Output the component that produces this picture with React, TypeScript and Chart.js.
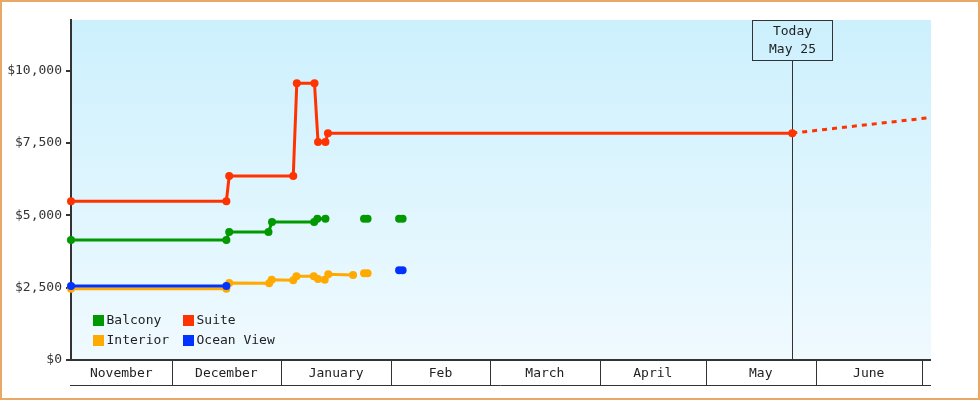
import { useEffect, useRef } from "react";
import { Chart, registerables } from "chart.js";

Chart.register(...registerables);

// x values are days counted from Nov 1
const X_MIN = 1.6;
const X_MAX = 244.6;
const Y_MAX = 11750;
const TODAY = 205.4;
const TODAY_LABEL = ["Today", "May 25"];

const MONTH_NAMES = ["November", "December", "January", "Feb", "March", "April", "May", "June"];
const MONTH_STARTS = [0, 30, 61, 92, 120, 151, 181, 212, 242];
const Y_TICKS = [0, 2500, 5000, 7500, 10000];

const suiteDays = [1.6, 45.5, 46.3, 64.4, 65.4, 70.4, 71.4, 73.5, 74.2, 205.4];
const suitePrices = [5490, 5490, 6360, 6360, 9560, 9560, 7530, 7530, 7840, 7840];
const suiteProjDays = [205.4, 244.6];
const suiteProjPrices = [7840, 8380];

const balconyDays = [1.6, 45.5, 46.3, 57.4, 58.4, 70.3, 71.2, 73.5, 79, 84.4, 85.4, 90, 94.3, 95.3];
const balconyPrices = [4150, 4150, 4420, 4420, 4770, 4770, 4880, 4880, null, 4880, 4880, null, 4880, 4880];

const interiorDays = [1.6, 45.5, 46.3, 57.6, 58.3, 64.4, 65.3, 70.2, 71.4, 73.3, 74.3, 81.3, 83, 84.4, 85.4];
const interiorPrices = [2460, 2460, 2660, 2650, 2770, 2760, 2890, 2890, 2800, 2775, 2960, 2940, null, 3000, 3000];

const oceanDays = [1.6, 45.5, 70, 94.3, 95.3];
const oceanPrices = [2560, 2560, null, 3100, 3100];

const LEGEND = [
  { label: "Balcony", color: "#009900" },
  { label: "Suite", color: "#ff3300" },
  { label: "Interior", color: "#ffaa00" },
  { label: "Ocean View", color: "#0033ff" },
];

const FONT = "13px 'DejaVu Sans Mono', monospace";
const INK = "#333333";

const zip = (days: number[], prices: (number | null)[]) =>
  days.map((d, i) => ({ x: d, y: prices[i] }));

const series = (data: any[], color: string, extra: any = {}) => ({
  data,
  borderColor: color,
  backgroundColor: color,
  pointBackgroundColor: color,
  borderWidth: 3,
  pointRadius: 4,
  pointHoverRadius: 4,
  pointBorderWidth: 0,
  tension: 0,
  spanGaps: false,
  clip: false,
  ...extra,
});

const decorations = {
  id: "decorations",
  beforeDraw(chart: any) {
    const { ctx, chartArea: a, width, height } = chart;
    ctx.save();
    ctx.fillStyle = "#ffffff";
    ctx.fillRect(0, 0, width, height);
    ctx.strokeStyle = "#e9a865";
    ctx.lineWidth = 2;
    ctx.strokeRect(1, 1, width - 2, height - 2);
    const g = ctx.createLinearGradient(0, a.top, 0, a.bottom);
    g.addColorStop(0, "#ccf0fd");
    g.addColorStop(1, "#f0faff");
    ctx.fillStyle = g;
    ctx.fillRect(a.left, a.top, a.right - a.left, a.bottom - a.top);
    ctx.restore();
  },
  beforeDatasetsDraw(chart: any) {
    const { ctx, chartArea: a, scales } = chart;
    const x = Math.round(scales.x.getPixelForValue(TODAY)) + 0.5;
    ctx.save();
    ctx.strokeStyle = INK;
    ctx.lineWidth = 1;
    ctx.beginPath();
    ctx.moveTo(x, a.top + 40);
    ctx.lineTo(x, a.bottom);
    ctx.stroke();
    ctx.restore();
  },
  afterDraw(chart: any) {
    const { ctx, chartArea: a, scales } = chart;
    const xs = scales.x;
    ctx.save();
    ctx.font = FONT;
    ctx.fillStyle = "#222222";
    ctx.strokeStyle = INK;

    // today box
    const tx = Math.round(xs.getPixelForValue(TODAY)) + 0.5;
    ctx.lineWidth = 1;
    ctx.strokeRect(tx - 40, a.top + 0.5, 80, 40);
    ctx.textAlign = "center";
    ctx.textBaseline = "middle";
    ctx.fillText(TODAY_LABEL[0], tx, a.top + 12);
    ctx.fillText(TODAY_LABEL[1], tx, a.top + 30);

    // month band under the plot
    const bandTop = a.bottom;
    const bandBottom = a.bottom + 25;
    ctx.lineWidth = 2;
    ctx.beginPath();
    ctx.moveTo(a.left - 1, bandTop);
    ctx.lineTo(a.right, bandTop);
    ctx.stroke();
    ctx.lineWidth = 1;
    ctx.beginPath();
    ctx.moveTo(a.left - 1, bandBottom + 0.5);
    ctx.lineTo(a.right, bandBottom + 0.5);
    for (let i = 1; i < MONTH_STARTS.length; i++) {
      const d = MONTH_STARTS[i];
      if (d <= X_MIN || d >= X_MAX) continue;
      const px = Math.round(xs.getPixelForValue(d)) + 0.5;
      ctx.moveTo(px, bandTop);
      ctx.lineTo(px, bandBottom);
    }
    ctx.stroke();
    MONTH_NAMES.forEach((name, i) => {
      const s = Math.max(MONTH_STARTS[i], X_MIN);
      const e = Math.min(MONTH_STARTS[i + 1], X_MAX);
      const cx = (xs.getPixelForValue(s) + xs.getPixelForValue(e)) / 2;
      ctx.fillText(name, cx, bandTop + 13.5);
    });

    // legend, two columns inside the plot
    ctx.textAlign = "left";
    LEGEND.forEach((item, i) => {
      const col = i % 2;
      const row = Math.floor(i / 2);
      const bx = a.left + 22 + col * 90;
      const by = a.bottom - 45 + row * 20;
      ctx.fillStyle = item.color;
      ctx.fillRect(bx, by, 11, 11);
      ctx.fillStyle = "#222222";
      ctx.fillText(item.label, bx + 13.5, by + 6);
    });
    ctx.restore();
  },
};

export default function App() {
  const canvasRef = useRef<HTMLCanvasElement>(null);

  useEffect(() => {
    document.body.style.margin = "0";
    if (!canvasRef.current) return;
    const chart = new Chart(canvasRef.current, {
      type: "line",
      data: {
        datasets: [
          series(zip(oceanDays, oceanPrices), "#0033ff"),
          series(zip(suiteDays, suitePrices), "#ff3300"),
          series(zip(suiteProjDays, suiteProjPrices), "#ff3300", {
            borderDash: [5, 5],
            pointRadius: 0,
            pointHoverRadius: 0,
          }),
          series(zip(balconyDays, balconyPrices), "#009900"),
          series(zip(interiorDays, interiorPrices), "#ffaa00"),
        ],
      },
      options: {
        animation: false,
        responsive: false,
        layout: { padding: { top: 20, right: 49, bottom: 40, left: 0 } },
        plugins: {
          legend: { display: false },
          tooltip: { enabled: false },
        },
        scales: {
          x: { type: "linear", min: X_MIN, max: X_MAX, display: false },
          y: {
            min: 0,
            max: Y_MAX,
            afterBuildTicks: (scale: any) => {
              scale.ticks = Y_TICKS.map((v) => ({ value: v }));
            },
            afterFit: (scale: any) => {
              scale.width = 71;
            },
            border: { display: true, color: INK, width: 2 },
            grid: {
              drawOnChartArea: false,
              drawTicks: true,
              tickLength: 5,
              color: INK,
              lineWidth: 2,
            },
            ticks: {
              padding: 4,
              color: "#333333",
              font: { family: "'DejaVu Sans Mono', monospace", size: 13 },
              callback: (v: any) => "$" + Number(v).toLocaleString("en-US"),
            },
          },
        },
      },
      plugins: [decorations],
    });
    return () => chart.destroy();
  }, []);

  return (
    <div style={{ width: 980, height: 400 }}>
      <canvas ref={canvasRef} width={980} height={400} style={{ display: "block" }} />
    </div>
  );
}
